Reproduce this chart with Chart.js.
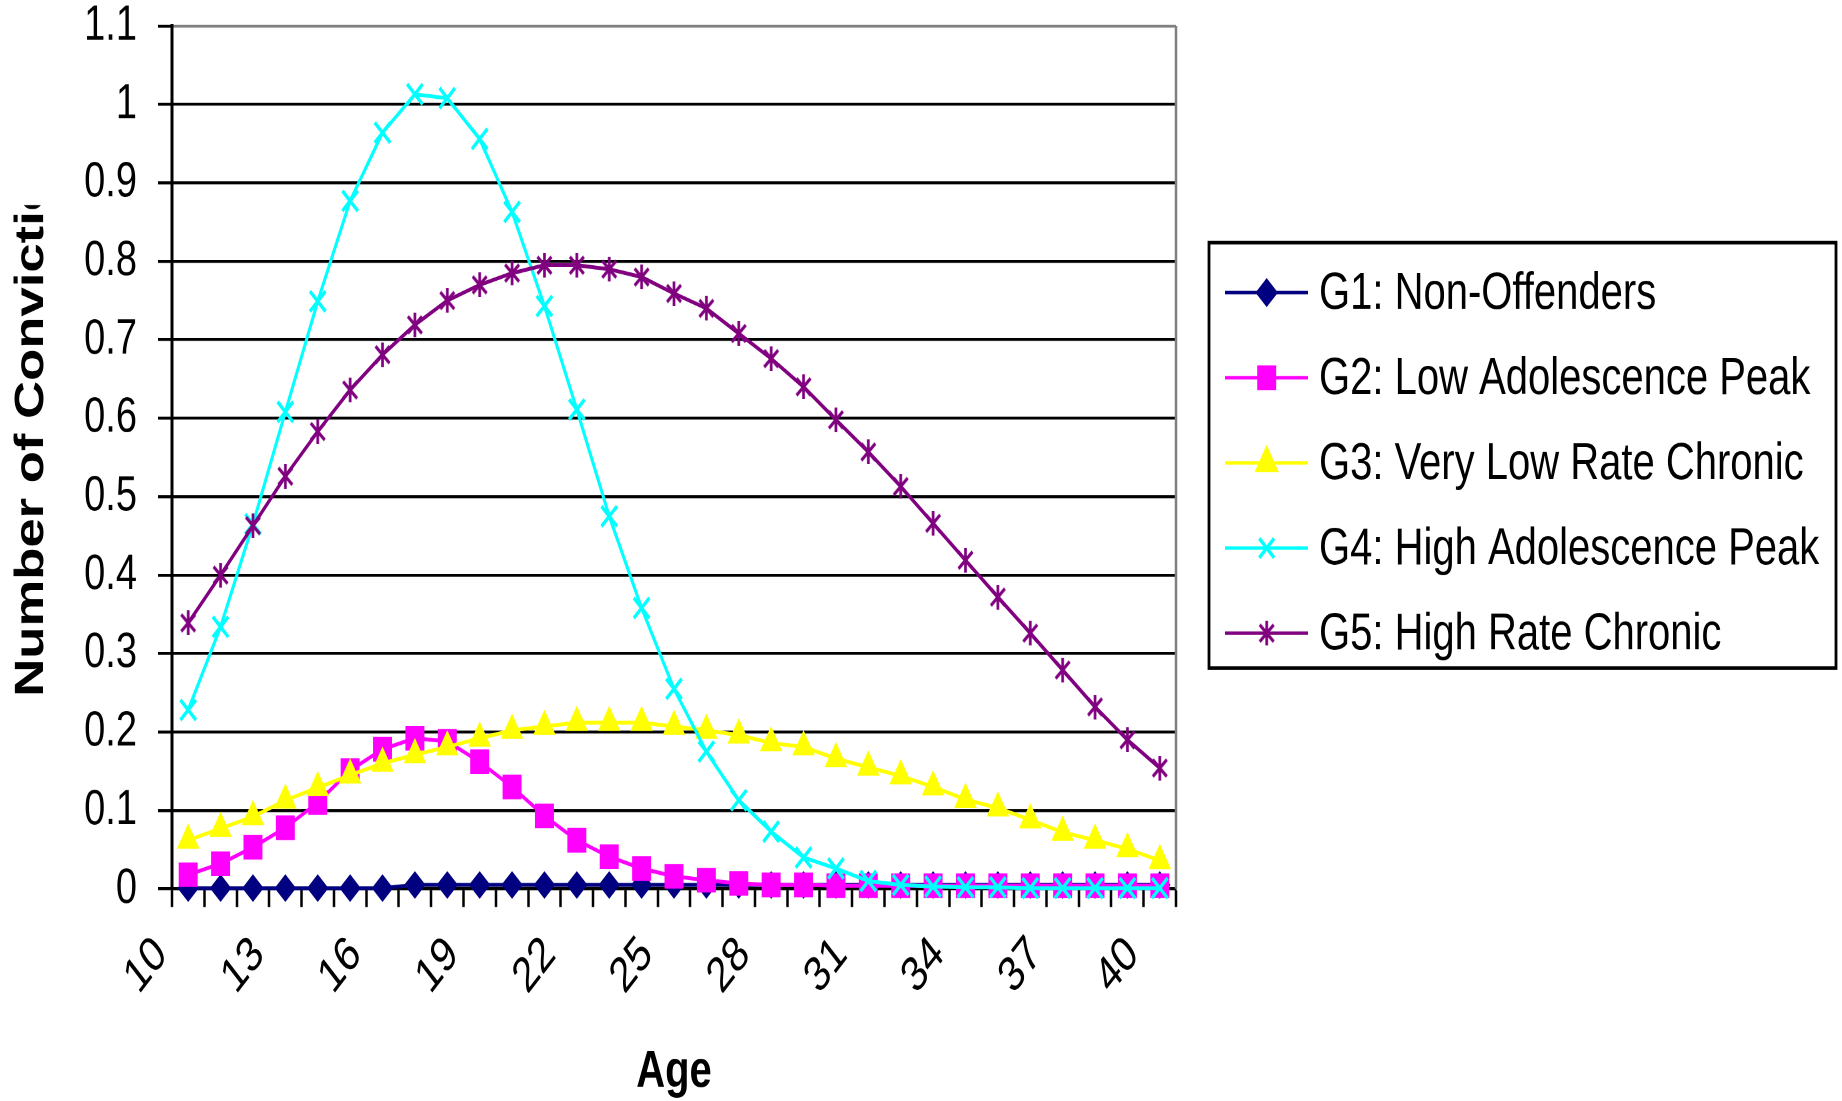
<!DOCTYPE html>
<html>
<head>
<meta charset="utf-8">
<script src="https://cdn.jsdelivr.net/npm/chart.js"></script>
<style>
  html, body { margin: 0; padding: 0; background: #fff; overflow: hidden; }
  #wrap { position: absolute; left: 0; top: 0; width: 1842px; height: 847px;
          transform-origin: 0 0; transform: scaleY(1.29988); }
</style>
</head>
<body>
<div id="wrap"><canvas id="c"></canvas></div>
<script>
// ---------------- DATA ----------------
const ages = [10,11,12,13,14,15,16,17,18,19,20,21,22,23,24,25,26,27,28,29,30,31,32,33,34,35,36,37,38,39,40];
const shownAgeLabels = ['10','13','16','19','22','25','28','31','34','37','40'];
const seriesNames = ['G1: Non-Offenders','G2: Low Adolescence Peak','G3: Very Low Rate Chronic','G4: High Adolescence Peak','G5: High Rate Chronic'];
const g1NonOffenders = [0.001,0.001,0.001,0.001,0.001,0.001,0.001,0.005,0.005,0.005,0.005,0.005,0.005,0.005,0.005,0.005,0.005,0.005,0.005,0.005,0.005,0.005,0.005,0.005,0.005,0.005,0.005,0.005,0.005,0.005,0.005];
const g2LowAdolescencePeak = [0.018,0.032,0.053,0.078,0.110,0.151,0.178,0.192,0.188,0.162,0.130,0.093,0.062,0.041,0.026,0.016,0.011,0.007,0.005,0.005,0.004,0.004,0.004,0.004,0.004,0.004,0.004,0.004,0.004,0.004,0.004];
const g3VeryLowRateChronic = [0.062,0.077,0.092,0.113,0.129,0.145,0.160,0.171,0.181,0.192,0.202,0.207,0.212,0.212,0.212,0.207,0.202,0.196,0.186,0.181,0.166,0.155,0.144,0.130,0.114,0.103,0.088,0.072,0.062,0.051,0.036];
const g4HighAdolescencePeak = [0.228,0.334,0.465,0.608,0.749,0.877,0.964,1.013,1.008,0.956,0.863,0.743,0.611,0.475,0.358,0.255,0.175,0.113,0.073,0.040,0.026,0.010,0.005,0.003,0.002,0.002,0.001,0.001,0.001,0.001,0.001];
const g5HighRateChronic = [0.339,0.400,0.463,0.526,0.583,0.636,0.681,0.719,0.750,0.770,0.785,0.795,0.795,0.790,0.780,0.759,0.740,0.708,0.676,0.640,0.598,0.557,0.513,0.466,0.419,0.372,0.326,0.279,0.232,0.190,0.154];
const xAxisTitle = 'Age';
const yAxisTitle = 'Number of Convictions';

// ---------------- STYLE ----------------
const FONT = '"Liberation Sans", Arial, Helvetica, sans-serif';
Chart.defaults.font.family = FONT;
Chart.defaults.color = '#000';

function makeAsterisk() {
  const c = document.createElement('canvas');
  c.width = 36; c.height = 38;
  const g = c.getContext('2d');
  g.strokeStyle = '#800080';
  g.lineWidth = 5.4;
  g.beginPath();
  g.moveTo(4, 6);  g.lineTo(32, 32);
  g.moveTo(32, 6); g.lineTo(4, 32);
  g.moveTo(18, 0); g.lineTo(18, 38);
  g.stroke();
  const img = new Image();
  img.width = 18; img.height = 19;
  img.src = c.toDataURL();
  return img;
}

const asterisk = makeAsterisk();

function build() {
  const seriesData = [g1NonOffenders, g2LowAdolescencePeak, g3VeryLowRateChronic, g4HighAdolescencePeak, g5HighRateChronic];
  const styles = [
    { color: '#000080', pointStyle: 'rectRot',  radius: 10,   legendRadius: 10.5, bw: 1 },
    { color: '#FF00FF', pointStyle: 'rect',     radius: 12.7, legendRadius: 12.7, bw: 1 },
    { color: '#FFFF00', pointStyle: 'triangle', radius: 12,   legendRadius: 13,   bw: 1 },
    { color: '#00FFFF', pointStyle: 'crossRot', radius: 11,   legendRadius: 10.5, bw: 3 },
    { color: '#800080', pointStyle: asterisk,   radius: 9,    legendRadius: 9,    bw: 1 }
  ];

  const datasets = seriesData.map((d, i) => ({
    label: seriesNames[i],
    data: d,
    borderColor: styles[i].color,
    backgroundColor: styles[i].color,
    pointBackgroundColor: styles[i].color,
    pointBorderColor: styles[i].color,
    pointStyle: styles[i].pointStyle,
    pointRadius: styles[i].radius,
    pointHoverRadius: styles[i].radius,
    pointBorderWidth: styles[i].bw,
    borderWidth: 3,
    tension: 0,
    clip: false,
    order: 5 - i
  }));

  function drawMarker(ctx, st, x, y, r) {
    if (Chart.helpers && Chart.helpers.drawPoint) {
      Chart.helpers.drawPoint(ctx, { pointStyle: st.pointStyle, radius: r, rotation: 0, borderWidth: st.bw }, x, y);
    }
  }

  const decor = {
    id: 'decor',
    beforeDatasetsDraw(chart) {
      const { ctx, chartArea: a } = chart;
      ctx.save();
      ctx.strokeStyle = '#808080';
      ctx.lineWidth = 2.5;
      ctx.beginPath();
      ctx.moveTo(a.right, a.top);
      ctx.lineTo(a.right, a.bottom);
      ctx.stroke();
      ctx.restore();
    },
    afterDraw(chart) {
      const { ctx } = chart;
      // y-axis title (clipped at the top as in the original)
      ctx.save();
      ctx.beginPath();
      ctx.rect(0, 157.7, 160, 700);
      ctx.clip();
      ctx.translate(43, 536);
      ctx.rotate(-Math.PI / 2);
      ctx.font = 'bold 40.5px ' + FONT;
      ctx.fillStyle = '#000';
      ctx.textAlign = 'left';
      ctx.textBaseline = 'alphabetic';
      ctx.fillText(yAxisTitle, 0, 0);
      ctx.restore();

      // legend
      const L = 1209, T = 186.7, R = 1836, B = 514;
      ctx.save();
      ctx.fillStyle = '#fff';
      ctx.fillRect(L, T, R - L, B - T);
      ctx.strokeStyle = '#000';
      ctx.lineWidth = 2.8;
      ctx.strokeRect(L, T, R - L, B - T);
      ctx.font = '40px ' + FONT;
      ctx.textAlign = 'left';
      ctx.textBaseline = 'alphabetic';
      for (let i = 0; i < seriesNames.length; i++) {
        const y = 225.1 + 65.5 * i;
        const st = styles[i];
        ctx.strokeStyle = st.color;
        ctx.lineWidth = 2.6;
        ctx.beginPath();
        ctx.moveTo(1225, y);
        ctx.lineTo(1308, y);
        ctx.stroke();
        ctx.fillStyle = st.color;
        ctx.strokeStyle = st.color;
        ctx.lineWidth = st.bw;
        drawMarker(ctx, st, 1266.7, y, st.legendRadius);
        ctx.fillStyle = '#000';
        ctx.fillText(seriesNames[i], 1319, y + 12.5);
      }
      ctx.restore();
    }
  };

  new Chart(document.getElementById('c'), {
    type: 'line',
    data: { labels: ages.map(String), datasets },
    plugins: [decor],
    options: {
      responsive: true,
      maintainAspectRatio: false,
      animation: false,
      devicePixelRatio: 2,
      events: [],
      layout: { padding: { top: 20, right: 666, bottom: 0, left: 0 } },
      plugins: { legend: { display: false }, tooltip: { enabled: false }, title: { display: false } },
      scales: {
        x: {
          type: 'category',
          offset: true,
          grid: { display: true, offset: true, drawOnChartArea: false, drawTicks: true,
                  tickLength: 14, tickColor: '#000', tickWidth: 2.5 },
          border: { display: true, color: '#000', width: 2.3 },
          ticks: {
            autoSkip: false, maxRotation: 45, minRotation: 45, padding: 17, labelOffset: -27,
            font: { size: 38, lineHeight: 1 }, color: '#000',
            callback(value, index) {
              const lab = String(ages[index]);
              return shownAgeLabels.includes(lab) ? lab : '';
            }
          },
          title: { display: true, text: xAxisTitle, color: '#000',
                   font: { size: 40, weight: 'bold', lineHeight: 1 }, padding: { top: 0, bottom: 2 } },
          afterFit(s) { s.height = 163.2; s.paddingTop = 0; s.paddingBottom = 0; s.paddingLeft = 0; s.paddingRight = 0; }
        },
        y: {
          type: 'linear',
          min: 0, max: 1.1,
          ticks: { stepSize: 0.1, padding: 21, font: { size: 38, lineHeight: 1 }, color: '#000',
                   callback: v => String(Math.round(v * 10) / 10) },
          grid: {
            color: c => (c.tick && Math.abs(c.tick.value - 1.1) < 1e-6) ? '#808080' : '#000',
            lineWidth: 2.3, drawTicks: true, tickLength: 14, tickColor: '#000', tickWidth: 2.3
          },
          border: { display: true, color: '#000', width: 3 },
          afterFit(s) { s.width = 172; s.paddingTop = 0; s.paddingBottom = 0; s.paddingLeft = 0; s.paddingRight = 0; }
        }
      }
    }
  });
}

if (asterisk.complete && asterisk.naturalWidth) build();
else asterisk.onload = build;
</script>
</body>
</html>
